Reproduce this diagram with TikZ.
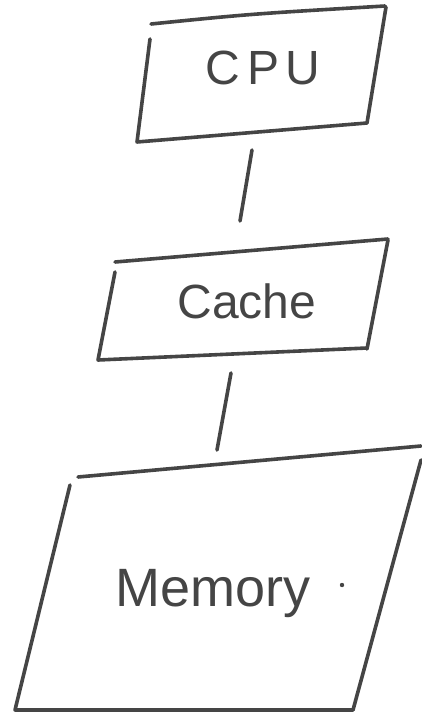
\documentclass[tikz,border=0pt]{standalone}
\usepackage{fontspec}
\setmainfont{Liberation Sans}
\definecolor{ink}{HTML}{454545}
\begin{document}
\begin{tikzpicture}[x=1pt,y=-1pt,
  stroke/.style={draw=ink,line width=3.6pt,line cap=round,line join=round},
  lbl/.style={text=ink,inner sep=0pt}]
\useasboundingbox (0,0) rectangle (422,717);
% CPU box
\draw[stroke] (151,24) .. controls (250,14) .. (385,6);
\draw[stroke] (150,39) -- (137,142) -- (367,123);
\draw[stroke] (386,7) -- (367,123);
\node[lbl,font=\fontsize{48}{48}\selectfont] (cpu) at (263,68) {C\hspace{8pt}P\hspace{6pt}U};
% connector CPU - Cache
\coordinate (c1a) at (252,150);
\coordinate (c1b) at (240,221);
\draw[stroke] (c1a) -- (c1b);
% Cache box
\draw[stroke] (115,262) -- (388,239);
\draw[stroke] (115,272) -- (98,360) -- (367,348);
\draw[stroke] (388,240) -- (367,349);
\node[lbl,font=\fontsize{48}{48}\selectfont] (cache) at (247,301) {Cache};
% connector Cache - Memory
\coordinate (c2a) at (231,373);
\coordinate (c2b) at (217,450);
\draw[stroke] (c2a) -- (c2b);
% Memory box
\draw[stroke] (78,477) .. controls (250,462) .. (421,446);
\draw[stroke] (70,485) -- (15,710) -- (353,710);
\draw[stroke] (421,460) -- (353,710);
\node[lbl,font=\fontsize{54}{54}\selectfont] (mem) at (213,594) {Memory};
\fill[ink] (342,585) circle (2.2pt);
\end{tikzpicture}
\end{document}
